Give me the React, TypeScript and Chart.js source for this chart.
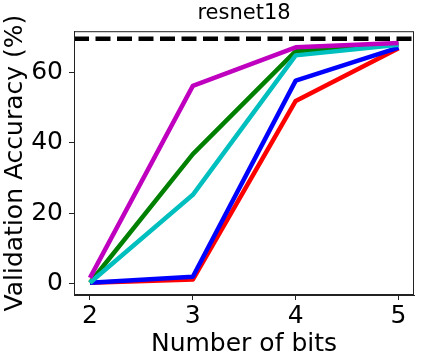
import React, { useEffect, useRef } from "react";
import { Chart, registerables } from "chart.js";
Chart.register(...registerables);

const BITS = [2, 3, 4, 5];
const RED = [0.1, 1.0, 52.0, 67.0];
const BLUE = [0.1, 1.8, 57.8, 67.2];
const CYAN = [0.1, 25.2, 65.0, 68.0];
const GREEN = [0.1, 36.8, 66.2, 68.2];
const MAGENTA = [1.5, 56.3, 67.3, 68.5];
const FP_ACC = 69.76;
const X_TICKS = [2, 3, 4, 5];
const Y_TICKS = [0, 20, 40, 60];
const TITLE = "resnet18";
const X_LABEL = "Number of bits";
const Y_LABEL = "Validation Accuracy (%)";

const FONT = "'DejaVu Sans', sans-serif";

const pts = (ys: number[]) => BITS.map((x, i) => ({ x, y: ys[i] }));

export default function App() {
  const ref = useRef<HTMLCanvasElement>(null);
  useEffect(() => {
    document.body.style.margin = "0";
    const refLine = {
      id: "refLine",
      afterDatasetsDraw(chart: any) {
        const { ctx, chartArea, scales } = chart;
        const y = scales.y.getPixelForValue(FP_ACC);
        ctx.save();
        ctx.beginPath();
        ctx.rect(chartArea.left, chartArea.top - 3, chartArea.right - chartArea.left, chartArea.bottom - chartArea.top + 6);
        ctx.clip();
        ctx.strokeStyle = "#000";
        ctx.lineWidth = 4.5;
        ctx.setLineDash([15, 6.5]);
        ctx.beginPath();
        ctx.moveTo(chartArea.left, y);
        ctx.lineTo(chartArea.right, y);
        ctx.stroke();
        ctx.restore();
        ctx.save();
        ctx.strokeStyle = "#222";
        ctx.lineWidth = 1;
        ctx.strokeRect(chartArea.left + 0.5, chartArea.top + 0.5, chartArea.right - chartArea.left - 1, chartArea.bottom - chartArea.top - 1);
        ctx.restore();
      },
    };
    const ds = (ys: number[], color: string, order: number) => ({
      data: pts(ys),
      borderColor: color,
      backgroundColor: color,
      borderWidth: 4.5,
      pointRadius: 0,
      borderJoinStyle: "round" as const,
      borderCapStyle: "butt" as const,
      order,
      clip: false as any,
    });
    const chart = new Chart(ref.current!, {
      type: "line",
      data: {
        datasets: [
          ds(RED, "#ff0000", 5),
          ds(BLUE, "#0000ff", 4),
          ds(GREEN, "#008000", 3),
          ds(CYAN, "#00bfbf", 2),
          ds(MAGENTA, "#bf00bf", 1),
        ],
      },
      options: {
        animation: false,
        responsive: false,
        events: [],
        layout: { padding: { left: 0, right: 10, top: 0, bottom: 0 } },
        plugins: {
          legend: { display: false },
          tooltip: { enabled: false },
          title: {
            display: true,
            fullSize: false,
            text: TITLE,
            color: "#000",
            font: { family: FONT, size: 21, weight: "normal" },
            padding: { top: 1, bottom: 5 },
          },
        },
        scales: {
          x: {
            type: "linear",
            min: 1.845,
            max: 5.15,
            afterBuildTicks: (s: any) => {
              s.ticks = X_TICKS.map((v) => ({ value: v }));
            },
            afterFit: (s: any) => {
              s.height = 66;
            },
            grid: { drawOnChartArea: false, drawTicks: true, tickLength: 5, color: "#222" },
            border: { display: true, color: "#222" },
            ticks: { color: "#000", font: { family: FONT, size: 25 }, padding: 1, maxRotation: 0 },
            title: {
              display: true,
              text: X_LABEL,
              color: "#000",
              font: { family: FONT, size: 25 },
              padding: { top: 0, bottom: 2 },
            },
          },
          y: {
            type: "linear",
            min: -3.4,
            max: 71.9,
            afterBuildTicks: (s: any) => {
              s.ticks = Y_TICKS.map((v) => ({ value: v }));
            },
            afterFit: (s: any) => {
              s.width = 74;
            },
            grid: { drawOnChartArea: false, drawTicks: true, tickLength: 5, color: "#222" },
            border: { display: true, color: "#222" },
            ticks: { color: "#000", font: { family: FONT, size: 25 }, padding: 6 },
            title: {
              display: true,
              text: Y_LABEL,
              color: "#000",
              font: { family: FONT, size: 25 },
              padding: { top: 0, bottom: 0 },
            },
          },
        },
      },
      plugins: [refLine],
    });
    return () => chart.destroy();
  }, []);
  return (
    <div style={{ width: 424, height: 361, background: "#fff" }}>
      <canvas ref={ref} width={424} height={361} style={{ display: "block" }} />
    </div>
  );
}
